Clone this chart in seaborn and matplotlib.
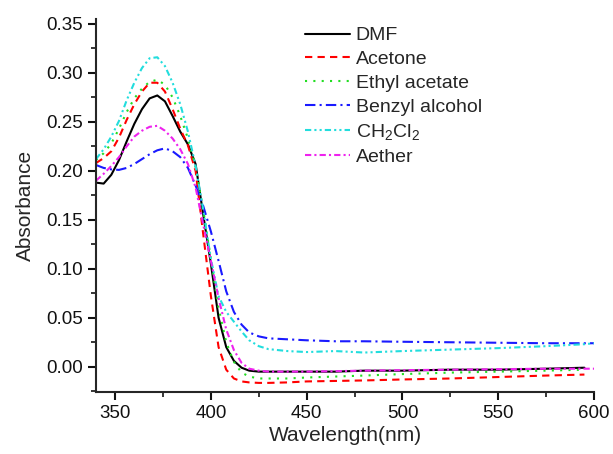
import numpy as np
import pandas as pd
import seaborn as sns
import matplotlib
matplotlib.use("Agg")
import matplotlib.pyplot as plt
from matplotlib.ticker import MultipleLocator

wavelength = [340, 344, 348, 352, 356, 360, 364, 368, 372, 376, 380, 384, 388, 392,
              396, 400, 404, 408, 412, 416, 420, 425, 430, 440, 450, 465, 480, 500,
              525, 550, 575, 595, 600]

dmf = [0.188, 0.187, 0.196, 0.211, 0.230, 0.248, 0.263, 0.274, 0.277, 0.271, 0.256,
       0.240, 0.227, 0.207, 0.155, 0.105, 0.050, 0.020, 0.006, -0.001, -0.004, -0.005,
       -0.005, -0.005, -0.005, -0.005, -0.004, -0.004, -0.003, -0.003, -0.002, -0.001, np.nan]
acetone = [0.208, 0.213, 0.220, 0.234, 0.252, 0.268, 0.281, 0.290, 0.290, 0.281, 0.263,
           0.243, 0.226, 0.200, 0.135, 0.072, 0.020, -0.003, -0.012, -0.015, -0.016, -0.0165,
           -0.0165, -0.016, -0.015, -0.0145, -0.014, -0.013, -0.012, -0.0105, -0.009, -0.008, np.nan]
ethyl_acetate = [0.211, 0.218, 0.228, 0.243, 0.260, 0.274, 0.284, 0.291, 0.293, 0.288, 0.275,
                 0.256, 0.233, 0.204, 0.160, 0.110, 0.060, 0.025, 0.005, -0.006, -0.010, -0.012,
                 -0.012, -0.012, -0.011, -0.010, -0.009, -0.0075, -0.006, -0.005, -0.004, -0.003, np.nan]
benzyl_alcohol = [0.206, 0.203, 0.2015, 0.201, 0.203, 0.207, 0.212, 0.217, 0.221, 0.223, 0.220,
                  0.214, 0.203, 0.185, 0.164, 0.138, 0.108, 0.077, 0.056, 0.043, 0.035, 0.031,
                  0.029, 0.028, 0.027, 0.026, 0.026, 0.0255, 0.025, 0.0245, 0.024, 0.024, 0.024]
ch2cl2 = [0.212, 0.222, 0.235, 0.251, 0.272, 0.290, 0.305, 0.315, 0.316, 0.307, 0.290,
          0.268, 0.240, 0.205, 0.160, 0.110, 0.072, 0.056, 0.046, 0.036, 0.027, 0.021,
          0.018, 0.016, 0.015, 0.016, 0.0145, 0.016, 0.0175, 0.019, 0.021, 0.023, 0.024]
aether = [0.190, 0.197, 0.205, 0.214, 0.225, 0.235, 0.241, 0.245, 0.246, 0.241, 0.233,
          0.222, 0.207, 0.183, 0.145, 0.108, 0.070, 0.038, 0.017, 0.004, -0.002, -0.004,
          -0.005, -0.005, -0.005, -0.0045, -0.004, -0.0035, -0.003, -0.0025, -0.002, -0.002, -0.002]

solvents = ["DMF", "Acetone", "Ethyl acetate", "Benzyl alcohol", r"CH$_2$Cl$_2$", "Aether"]
series = [dmf, acetone, ethyl_acetate, benzyl_alcohol, ch2cl2, aether]
colors = ["#000000", "#ff0000", "#22dd22", "#1a1aff", "#22dddd", "#ee22ee"]
dash_styles = ["", (3.5, 2.5), (1, 3), (5, 2, 1, 2), (3, 1.5, 1, 1.5, 1, 1.5), (3, 1.5, 1, 1.5)]

df = pd.concat(
    [pd.DataFrame({"Wavelength": wavelength, "Absorbance": s, "Solvent": name})
     for name, s in zip(solvents, series)],
    ignore_index=True,
).dropna()

sns.set_style("ticks")
plt.rcParams["font.family"] = ["Liberation Sans", "DejaVu Sans"]
plt.rcParams["mathtext.default"] = "regular"

fig = plt.figure(figsize=(6.13, 4.54), dpi=100)
ax = fig.add_axes([0.1566, 0.1372, 0.8124, 0.8208])

sns.lineplot(data=df, x="Wavelength", y="Absorbance", hue="Solvent", style="Solvent",
             hue_order=solvents, style_order=solvents,
             palette=dict(zip(solvents, colors)), dashes=dict(zip(solvents, dash_styles)),
             linewidth=1.5, ax=ax, sort=False)

ax.set_xlim(340, 600)
ax.set_ylim(-0.0255, 0.355)
ax.xaxis.set_major_locator(MultipleLocator(50))
ax.xaxis.set_minor_locator(MultipleLocator(25))
ax.yaxis.set_major_locator(MultipleLocator(0.05))
ax.yaxis.set_minor_locator(MultipleLocator(0.025))
ax.yaxis.set_major_formatter(matplotlib.ticker.FormatStrFormatter("%.2f"))

sns.despine(ax=ax)
for side in ["left", "bottom"]:
    ax.spines[side].set_linewidth(1.5)
ax.tick_params(which="major", direction="out", length=6, width=1.5, labelsize=13.5, colors="#111111")
ax.tick_params(which="minor", direction="out", length=3.5, width=1.3)

ax.set_xlabel("Wavelength(nm)", fontsize=15, labelpad=3)
ax.set_ylabel("Absorbance", fontsize=15, labelpad=8)

handles, labels = ax.get_legend_handles_labels()
ax.legend(handles, labels, loc="upper left", bbox_to_anchor=(0.404, 1.0), frameon=False,
          fontsize=14, handlelength=2.3, handletextpad=0.3, labelspacing=0.32, borderaxespad=0)

fig.savefig("out.png", dpi=100)
